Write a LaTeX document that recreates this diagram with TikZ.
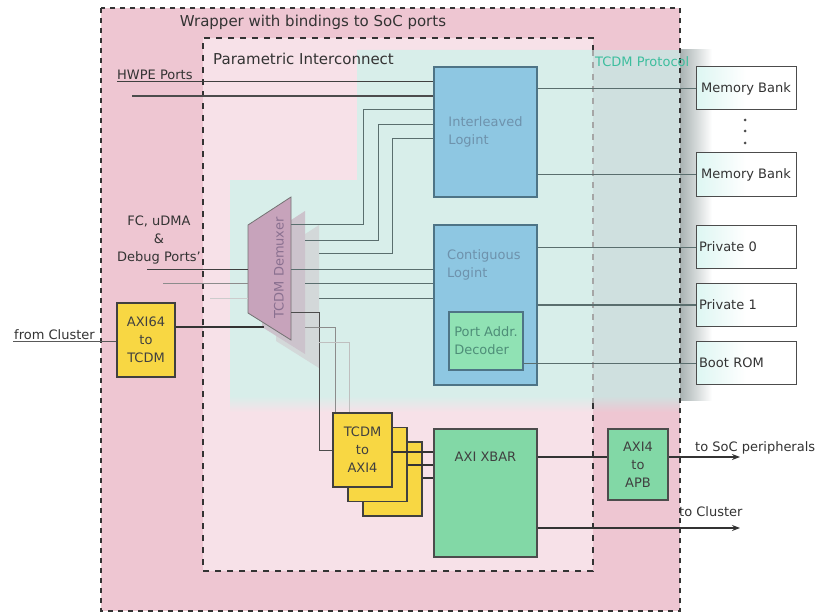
\documentclass[tikz,border=0pt]{standalone}
\usepackage{fontspec}
\setmainfont{DejaVu Sans}
\usetikzlibrary{arrows.meta}
\definecolor{outerpink}{HTML}{EEC6D2}
\definecolor{innerpink}{HTML}{F7E1E8}
\definecolor{cyanreg}{HTML}{D8EEEA}
\definecolor{cyanband}{HTML}{CFE0DF}
\definecolor{shadowgray}{HTML}{A8B2B2}
\definecolor{logblue}{HTML}{8EC7E2}
\definecolor{logborder}{HTML}{4E7486}
\definecolor{xgreen}{HTML}{82D8A6}
\definecolor{decgreen}{HTML}{90E2B4}
\definecolor{xyellow}{HTML}{F8D743}
\definecolor{demuxfront}{HTML}{C7A3BB}
\definecolor{demuxmid}{HTML}{CCC3CC}
\definecolor{demuxback}{HTML}{D3D8D9}
\definecolor{demuxtext}{HTML}{8A7090}
\definecolor{wirec}{HTML}{5A6E6E}
\definecolor{ltext}{HTML}{6E92AC}
\definecolor{dtext}{HTML}{4E8E78}
\definecolor{tcdmtext}{HTML}{3DBE9E}
\definecolor{txt}{HTML}{333333}
\definecolor{memtint}{HTML}{DDF6F2}
\begin{document}
\begin{tikzpicture}[x=1pt,y=-1pt,
  font=\fontsize{13}{18}\selectfont,
  logbox/.style={draw=logborder, fill=logblue, line width=1.2pt, inner sep=0pt},
  decbox/.style={draw=logborder, fill=decgreen, line width=1.1pt, inner sep=0pt},
  membox/.style={draw=black!70, left color=memtint, right color=white, middle color=white, line width=1pt, minimum width=100pt, minimum height=43pt, inner sep=0pt, text=txt},
  ybox/.style={draw=black!75, fill=xyellow, line width=1.2pt, minimum width=59pt, minimum height=74pt, inner sep=0pt, align=center, text=black!75},
  gbox/.style={draw=black!70, fill=xgreen, line width=1.2pt, inner sep=0pt, align=center, text=black!75},
  wire/.style={draw=wirec, line width=1pt},
  bus/.style={draw=black!80, line width=1.6pt},
  lbl/.style={inner sep=0pt, text=txt},
  outarrow/.style={-{Stealth[length=8pt,width=6pt]}},
  dotmark/.style={circle, fill=black!70, inner sep=0pt, minimum size=3pt}
]
\useasboundingbox (0,0) rectangle (822,615);
\fill[white] (0,0) rectangle (822,615);
% wrapper backgrounds
\fill[outerpink] (101,8) rectangle (680,611);
\fill[innerpink] (203,38) rectangle (593,571);
% TCDM protocol region
\fill[cyanreg] (357,50) -- (593,50) -- (593,396) -- (230,396) -- (230,180) -- (357,180) -- cycle;
\shade[top color=cyanreg, bottom color=innerpink] (230,396) rectangle (593,412);
\fill[cyanband] (593,50) rectangle (680,396);
\shade[top color=cyanband, bottom color=outerpink] (593,396) rectangle (680,412);
\shade[left color=shadowgray, right color=white] (680,50) rectangle (712,400);
% dashed frames
\draw[black!80, line width=1.2pt, dash pattern=on 5pt off 5pt] (101,8) rectangle (680,611);
\draw[black!80, line width=1.2pt, dash pattern=on 6pt off 6pt] (593,403) -- (593,571) -- (203,571) -- (203,38) -- (593,38) -- (593,50);
\draw[black!35, line width=1.2pt, dash pattern=on 6pt off 6pt] (593,50) -- (593,403);
% titles
\node[lbl, font=\fontsize{15}{18}\selectfont] (wt) at (313,22) {Wrapper with bindings to SoC ports};
\node[lbl, font=\fontsize{15}{18}\selectfont, anchor=west] (pt) at (213,59) {Parametric Interconnect};
\node[lbl, text=tcdmtext, anchor=west] (tp) at (595,62) {TCDM Protocol};
% logints
\node[logbox, minimum width=103pt, minimum height=130pt, align=left, text=ltext] (il) at (485.5,132) {Interleaved\\Logint};
\node[logbox, minimum width=103pt, minimum height=160pt] (cl) at (485.5,305) {};
\node[lbl, text=ltext, align=left, anchor=west] (clt) at (447,265) {Contiguous\\Logint};
\node[decbox, minimum width=74pt, minimum height=58pt, align=left, text=dtext] (dec) at (486,341) {Port Addr.\\Decoder};
% memories
\node[membox] (mb1) at (746,88.5) {Memory Bank};
\node[membox] (mb2) at (746,174.5) {Memory Bank};
\node[dotmark] (dt1) at (745,120) {};
\node[dotmark] (dt2) at (745,131) {};
\node[dotmark] (dt3) at (745,143) {};
\node[membox, text width=94pt, align=left] (p0) at (746,247) {Private 0};
\node[membox, text width=94pt, align=left] (p1) at (746,305) {Private 1};
\node[membox, text width=94pt, align=left] (rom) at (746,363) {Boot ROM};
% demuxer
\fill[demuxback] (276,253) -- (319,225) -- (319,368) -- (276,341) -- cycle;
\fill[demuxmid] (262,239) -- (305,211) -- (305,354) -- (262,327) -- cycle;
\draw[fill=demuxfront, draw=black!55, line width=0.8pt] (248,225) -- (291,197) -- (291,340) -- (248,313) -- cycle;
\node[lbl, rotate=90, text=demuxtext] (dmt) at (279,268) {TCDM Demuxer};
\coordinate (dA1) at (291,224); \coordinate (dA2) at (305,240); \coordinate (dA3) at (319,253);
\coordinate (dB1) at (291,269); \coordinate (dB2) at (305,283); \coordinate (dB3) at (319,298);
\coordinate (dC1) at (291,312); \coordinate (dC2) at (305,327); \coordinate (dC3) at (319,342);
\coordinate (dI1) at (248,269); \coordinate (dI2) at (248,283); \coordinate (dI3) at (248,298);
\coordinate (dIax) at (264,327);
% left side blocks
\node[ybox, minimum width=58pt] (ax) at (146,340) {AXI64\\to\\TCDM};
\node[ybox] (t3) at (392.5,479) {};
\node[ybox] (t2) at (377.5,464.5) {};
\node[ybox] (t1) at (362.5,450) {TCDM\\to\\AXI4};
\node[gbox, minimum width=103pt, minimum height=128pt] (xb) at (485.5,493) {};
\node[lbl, text=black!75] (xbt) at (485.5,457) {AXI XBAR};
\node[gbox, minimum width=60pt, minimum height=71pt] (apb) at (638,464.5) {AXI4\\to\\APB};
% labels
\node[lbl, anchor=base west] (hwt) at (117,80) {HWPE Ports};
\node[lbl, align=center] (fct) at (159,240) {FC, uDMA\\\&\\Debug Ports'};
\node[lbl, anchor=base west] (fcl) at (14,339) {from Cluster};
\node[lbl, anchor=west] (sot) at (695,448) {to SoC peripherals};
\node[lbl, anchor=west] (clu) at (679,512) {to Cluster};
% free ends
\coordinate (hw1) at (117,82); \coordinate (hw2) at (132,96);
\coordinate (fc1) at (147,269); \coordinate (fc2) at (163,283); \coordinate (fc3) at (210,298);
\coordinate (fromcl) at (13,341);
\coordinate (socend) at (740,457); \coordinate (cluend) at (740,528);
% wires into interleaved
\draw[wire, draw=black!75] (hw1) -- (il.west |- hw1);
\draw[bus, draw=black!70] (hw2) -- (il.west |- hw2);
\draw[wire] (dA1) -- ++(72,0) |- (il.west |- 0,110);
\draw[wire] (dA2) -- ++(73,0) |- (il.west |- 0,125);
\draw[wire] (dA3) -- ++(73,0) |- (il.west |- 0,139);
% wires into contiguous
\draw[wire] (dB1) -- (cl.west |- dB1);
\draw[wire] (dB2) -- (cl.west |- dB2);
\draw[wire] (dB3) -- (cl.west |- dB3);
% wires down to TCDM->AXI4
\draw[wire, draw=black!70] (dC1) -- ++(28,0) |- (t1.west |- 0,450);
\draw[wire, draw=black!45] (dC2) -- ++(30,0) coordinate (k2) -- (k2 |- t1.north);
\draw[wire, draw=black!25] (dC3) -- ++(30,0) coordinate (k3) -- (k3 |- t1.north);
% inputs to demuxer
\draw[wire, draw=black!75] (fc1) -- (dI1);
\draw[wire, draw=black!45] (fc2) -- (dI2);
\draw[wire, draw=black!20] (fc3) -- (dI3);
\draw[wire, draw=black!65] (fromcl) -- (ax.west |- fromcl);
\draw[bus] (ax.east |- dIax) -- (dIax);
% memories
\draw[wire] (il.east |- mb1.west) -- (mb1.west);
\draw[wire] (il.east |- mb2.west) -- (mb2.west);
\draw[wire] (cl.east |- p0.west) -- (p0.west);
\draw[wire, line width=1.6pt] (cl.east |- p1.west) -- (p1.west);
\draw[wire] (dec.east |- rom.west) -- (rom.west);
% AXI side
\draw[bus] (t1.east |- 0,452) -- (xb.west |- 0,452);
\draw[bus] (t2.east |- 0,465) -- (xb.west |- 0,465);
\draw[bus] (t3.east |- 0,478) -- (xb.west |- 0,478);
\draw[bus] (xb.east |- 0,457) -- (apb.west |- 0,457);
\draw[bus, outarrow] (apb.east |- socend) -- (socend);
\draw[wire, draw=black!80, line width=1.2pt, outarrow] (xb.east |- cluend) -- (cluend);
\end{tikzpicture}
\end{document}
